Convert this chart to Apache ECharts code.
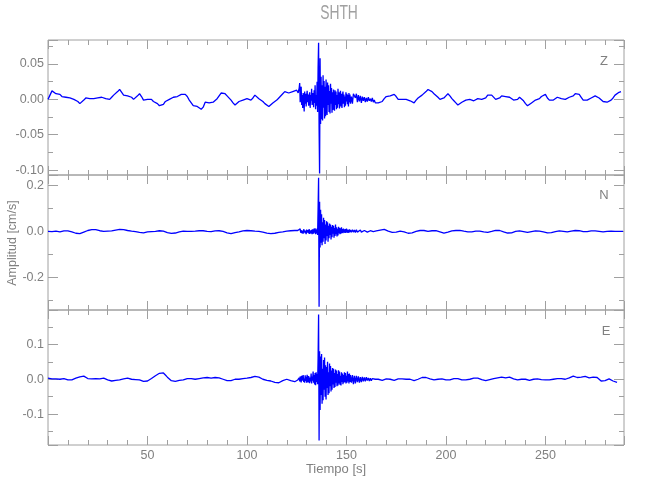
<!DOCTYPE html>
<html><head><meta charset="utf-8">
<script src="https://cdn.jsdelivr.net/npm/echarts@6/dist/echarts.min.js"></script>
<style>html,body{margin:0;padding:0;background:#fff}#c{width:650px;height:500px}</style>
</head><body><div id="c"></div>
<script>
const stationName = 'SHTH';
const componentNames = ['Z', 'N', 'E'];
const xAxisName = 'Tiempo [s]';
const yAxisName = 'Amplitud [cm/s]';
const timeRange = [0, 289.5];
const yRanges = [[-0.107, 0.084], [-0.344, 0.247], [-0.188, 0.198]];
const yLabelDecimals = [2, 1, 1];
const ySplitNumbers = [4, 3, 4];

// sample clock: 1 s before 125 s, 0.25 s for 125.25-152 s, 0.5 s for 152.5-165 s, 1 s after
const clockSegments = [[0, 125, 1], [125.25, 152, 0.25], [152.5, 165, 0.5], [166, 289, 1]];

// ---------- Z component ----------
const zPre = [
 0.000,0.006,0.012,0.010,0.008,0.006,0.007,0.004,0.005,0.003,
 0.004,0.002,0.003,0.000,-0.002,-0.003,-0.006,-0.004,-0.001,0.002,
 0.003,0.001,0.002,0.001,0.003,0.002,0.001,0.003,0.002,0.001,
 -0.001,0.000,0.003,0.006,0.008,0.011,0.014,0.012,0.006,0.004,
 0.005,0.006,0.003,0.000,0.002,0.005,0.008,0.004,-0.001,-0.003,
 0.000,0.002,0.000,-0.003,-0.005,-0.006,-0.009,-0.010,-0.007,-0.003,
 -0.002,0.000,0.001,0.003,0.002,0.004,0.005,0.007,0.008,0.007,
 0.004,-0.001,-0.005,-0.009,-0.008,-0.010,-0.009,-0.014,-0.011,-0.004,
 -0.003,-0.005,-0.005,-0.004,-0.003,0.001,0.005,0.009,0.011,0.008,
 0.005,0.003,-0.001,-0.005,-0.008,-0.006,-0.003,-0.002,-0.001,0.000,
 0.001,0.000,-0.001,0.002,0.006,0.004,0.001,-0.001,-0.003,-0.006,
 -0.008,-0.010,-0.008,-0.005,-0.003,-0.001,0.002,0.004,0.008,0.011,
 0.010,0.009,0.010,0.011,0.012,0.013
];
const zEventFine = [
 0.011,0.014,0.009,0.013,  0.016,0.023,-0.004,0.010,  0.018,-0.008,0.006,-0.012,
 0.009,0.002,-0.017,0.011, -0.006,0.008,-0.010,0.004, 0.012,-0.004,0.007,-0.009,
 0.003,0.010,-0.012,0.006, -0.002,0.015,-0.008,0.004, 0.009,-0.011,0.013,-0.005,
 0.020,-0.014,0.006,-0.009, 0.025,-0.018,0.045,0.080, -0.040,-0.105,0.058,-0.035,
 0.032,-0.028,0.020,-0.030, 0.034,-0.012,0.026,-0.027, 0.018,-0.024,0.028,-0.010,
 -0.022,0.024,-0.008,0.020, -0.018,0.012,-0.020,0.022, -0.006,0.016,-0.019,0.010,
 -0.015,0.014,-0.004,-0.016, 0.013,-0.008,0.011,-0.014, 0.006,-0.012,0.015,-0.007,
 0.010,-0.013,0.004,0.012, -0.010,0.008,-0.012,0.005, 0.011,-0.006,0.007,-0.011,
 0.004,-0.009,0.010,-0.003, 0.008,-0.007,0.006,-0.010, 0.009,-0.004,0.007,-0.006
];
const zEventCoda = [
 0.004,-0.006,0.008,0.010,0.002,0.008,-0.004,0.006,-0.003,0.005,
 -0.005,0.004,-0.002,0.003,-0.004,0.002,-0.003,0.003,-0.002,0.001,
 -0.003,0.002,-0.004,-0.001,-0.005,-0.003
];
const zPost = [
 -0.005,-0.007,-0.003,0.001,0.004,0.003,0.005,0.006,0.007,0.004,
 0.000,-0.001,0.000,0.001,0.000,-0.001,-0.002,-0.004,-0.005,-0.001,
 0.002,0.004,0.006,0.008,0.011,0.014,0.013,0.011,0.008,0.006,
 0.003,0.000,-0.001,0.002,0.005,0.008,0.005,0.001,-0.002,-0.005,
 -0.008,-0.007,-0.004,-0.003,-0.001,0.000,0.000,-0.001,-0.002,-0.001,
 0.001,0.002,0.000,-0.002,0.002,0.006,0.008,0.006,0.004,0.000,
 -0.002,0.002,0.005,0.004,0.004,0.003,0.003,0.001,-0.001,-0.002,
 0.000,0.003,0.002,-0.002,-0.006,-0.009,-0.008,-0.005,-0.003,-0.001,
 0.000,0.001,0.004,0.006,0.007,0.002,-0.001,-0.003,-0.001,0.001,
 0.003,0.002,0.001,0.000,0.000,0.002,0.003,0.002,0.005,0.008,
 0.008,0.007,0.003,-0.001,-0.002,-0.001,0.000,0.002,0.004,0.005,
 0.004,0.002,0.000,-0.003,-0.005,-0.004,-0.003,-0.001,0.002,0.006,
 0.008,0.010,0.011,null
];

// ---------- N component ----------
const nPre = [
 0.000,0.000,-0.001,0.000,0.001,0.000,-0.002,-0.001,0.002,0.003,
 0.002,0.001,-0.002,-0.005,-0.008,-0.010,-0.010,-0.007,-0.003,0.001,
 0.004,0.006,0.008,0.009,0.008,0.006,0.003,0.001,0.000,0.000,
 0.001,0.000,0.002,0.004,0.006,0.008,0.009,0.009,0.008,0.006,
 0.004,0.002,0.001,0.000,-0.001,-0.002,-0.004,-0.006,-0.006,-0.004,
 -0.002,-0.002,-0.001,-0.001,0.000,0.002,0.003,0.003,0.001,-0.002,
 -0.005,-0.007,-0.009,-0.009,-0.007,-0.004,-0.002,0.000,0.001,0.000,
 0.000,0.001,0.000,0.000,0.001,0.002,0.003,0.003,0.003,0.002,
 0.000,-0.001,-0.001,0.000,0.002,0.003,0.003,0.002,0.000,-0.003,
 -0.006,-0.009,-0.010,-0.008,-0.005,-0.003,-0.002,0.000,0.002,0.004,
 0.004,0.004,0.003,0.002,0.001,0.000,0.000,-0.001,-0.003,-0.005,
 -0.007,-0.009,-0.010,-0.010,-0.008,-0.006,-0.004,-0.002,-0.002,0.000,
 0.001,0.002,0.003,0.003,0.004,0.004
];
const nEventFine = [
 0.003,0.004,0.002,0.004,  0.008,-0.004,0.011,-0.006,  0.005,0.012,-0.008,0.003,
 -0.010,0.009,0.001,0.013, -0.007,0.004,-0.012,0.008,  0.011,-0.005,0.006,-0.009,
 0.010,-0.011,0.004,0.012, -0.008,0.007,-0.012,0.009,  0.002,-0.010,0.013,-0.006,
 0.014,-0.012,0.008,-0.009, 0.012,-0.015,0.100,0.235, -0.330,0.130,-0.070,0.095,
 -0.050,0.075,-0.060,0.040, -0.045,0.060,-0.030,0.050, -0.055,0.030,-0.040,0.045,
 -0.020,0.040,-0.045,0.025, -0.030,0.035,-0.015,0.030, -0.035,0.020,-0.025,0.028,
 -0.010,0.025,-0.028,0.015, -0.020,0.030,-0.012,0.018, -0.022,0.012,-0.018,0.020,
 -0.008,0.016,-0.012,0.014, -0.010,0.018,-0.006,0.010, -0.008,0.012,-0.004,0.009,
 -0.007,0.010,-0.006,0.012, -0.004,0.008,-0.006,0.007, -0.005,0.009,-0.003,0.006
];
const nEventCoda = [
 -0.004,0.007,-0.003,0.006,-0.005,0.007,-0.003,0.005,-0.004,0.006,
 -0.003,0.005,-0.004,0.004,-0.002,0.005,-0.003,0.004,-0.002,0.003,
 -0.002,0.004,-0.001,0.003,0.000,0.002
];
const nPost = [
 0.002,0.006,0.010,0.009,0.005,0.001,-0.002,-0.004,-0.005,-0.003,
 0.000,0.001,0.000,-0.002,-0.005,-0.008,-0.008,-0.006,-0.003,0.000,
 0.002,0.004,0.005,0.004,0.002,0.000,0.001,0.003,0.004,0.003,
 0.001,-0.002,-0.005,-0.007,-0.006,-0.003,0.000,0.002,0.003,0.004,
 0.005,0.005,0.003,0.001,-0.001,-0.002,-0.003,-0.002,0.000,0.001,
 0.002,0.001,0.000,-0.002,-0.004,-0.004,-0.002,0.000,0.003,0.005,
 0.006,0.004,0.001,-0.002,-0.005,-0.007,-0.008,-0.006,-0.003,0.000,
 0.001,0.002,0.001,-0.001,-0.003,-0.004,-0.003,-0.001,0.001,0.002,
 0.002,0.001,0.000,-0.002,-0.004,-0.006,-0.007,-0.005,-0.003,-0.001,
 0.001,0.002,0.001,0.000,-0.001,-0.002,-0.001,0.001,0.003,0.004,
 0.004,0.003,0.001,-0.001,-0.002,-0.001,0.000,0.002,0.003,0.002,
 0.001,0.000,-0.001,-0.002,-0.001,0.000,0.001,0.001,0.000,0.000,
 0.001,0.000,0.000,0.000
];

// ---------- E component ----------
const ePre = [
 0.003,0.002,0.001,0.003,0.001,-0.001,0.000,0.001,0.002,0.000,
 -0.002,-0.003,-0.002,0.001,0.003,0.005,0.007,0.009,0.009,0.006,
 0.002,0.000,0.001,0.003,0.002,0.000,0.001,0.002,0.003,0.001,
 -0.002,-0.004,-0.005,-0.004,-0.003,-0.002,-0.002,-0.001,0.001,0.002,
 0.003,0.002,0.000,-0.001,-0.001,0.000,-0.002,-0.004,-0.006,-0.007,
 -0.005,-0.002,0.002,0.006,0.010,0.013,0.017,0.019,0.018,0.012,
 0.006,0.001,-0.004,-0.007,-0.006,-0.004,-0.003,-0.002,-0.002,0.000,
 0.002,0.003,0.002,0.000,0.000,0.001,0.002,0.003,0.004,0.005,
 0.005,0.004,0.003,0.004,0.005,0.005,0.004,0.002,0.000,-0.002,
 -0.004,-0.005,-0.004,-0.002,0.000,0.001,0.000,0.000,0.002,0.003,
 0.003,0.004,0.005,0.007,0.008,0.008,0.006,0.003,0.000,-0.002,
 -0.003,-0.003,-0.005,-0.007,-0.009,-0.010,-0.010,-0.008,-0.004,-0.001,
 0.000,-0.002,-0.004,-0.006,-0.007,-0.005
];
const eEventFine = [
 -0.004,-0.002,0.001,-0.003, 0.004,-0.006,0.008,-0.002, -0.009,0.010,-0.004,0.006,
 0.012,-0.008,0.002,-0.010,  0.011,-0.005,0.007,-0.010, 0.013,-0.003,-0.009,0.009,
 0.014,-0.011,0.005,-0.006,  0.016,-0.012,0.008,-0.004, 0.022,-0.010,0.012,-0.015,
 0.018,-0.017,0.020,-0.008,  0.015,-0.014,0.060,0.185, -0.175,0.080,-0.088,0.065,
 -0.045,0.072,-0.070,0.030, -0.060,0.055,-0.030,0.062, -0.050,0.040,-0.058,0.035,
 -0.025,0.050,-0.045,0.020, -0.040,0.045,-0.020,0.038, -0.035,0.025,-0.030,0.032,
 -0.015,0.030,-0.025,0.018, -0.022,0.028,-0.010,0.025, -0.020,0.015,-0.018,0.026,
 -0.012,0.022,-0.016,0.010, -0.018,0.020,-0.008,0.016, -0.014,0.012,-0.010,0.020,
 -0.008,0.018,-0.012,0.010, -0.010,0.022,-0.006,0.015, -0.012,0.016,-0.008,0.012
];
const eEventCoda = [
 -0.010,0.012,-0.014,0.010,-0.012,0.010,-0.008,0.008,-0.010,0.006,
 -0.008,0.007,-0.006,0.005,-0.006,0.006,-0.004,0.004,-0.005,0.003,
 -0.004,0.002,-0.003,0.001,0.000,0.001
];
const ePost = [
 0.000,-0.002,-0.003,-0.001,0.001,0.002,0.000,-0.002,-0.003,-0.001,
 0.001,0.002,0.001,0.000,0.000,0.001,0.000,-0.002,-0.004,-0.003,
 0.000,0.003,0.005,0.006,0.005,0.003,0.001,-0.001,-0.002,-0.001,
 0.000,0.001,0.001,0.000,-0.002,-0.003,-0.002,0.000,0.002,0.003,
 0.002,0.000,-0.002,-0.003,-0.002,-0.001,0.000,0.002,0.003,0.004,
 0.003,0.001,-0.001,-0.003,-0.004,-0.003,-0.001,0.001,0.002,0.003,
 0.004,0.005,0.006,0.005,0.004,0.005,0.006,0.004,0.001,-0.001,
 -0.002,-0.001,0.000,0.001,0.000,-0.002,-0.003,-0.002,0.000,0.001,
 0.001,0.000,-0.001,-0.002,-0.002,-0.002,-0.002,0.000,0.000,0.001,
 0.002,0.003,0.002,0.001,0.000,0.000,0.004,0.007,0.009,0.007,
 0.005,0.004,0.006,0.008,0.008,0.006,0.004,0.005,0.006,0.007,
 0.005,0.001,-0.005,-0.002,-0.004,0.001,0.001,-0.002,-0.005,-0.007,
 -0.009,null,null,null
];

const traces = [
  [].concat(zPre, zEventFine, zEventCoda, zPost),
  [].concat(nPre, nEventFine, nEventCoda, nPost),
  [].concat(ePre, eEventFine, eEventCoda, ePost)
];

function buildClock() {
  const t = [];
  clockSegments.forEach(([a, b, s]) => { for (let v = a; v <= b + 1e-9; v += s) t.push(v); });
  return t;
}
const times = buildClock();

const frameColor = '#a0a0a0';
const textColor = '#808080';
const fontFamily = '"Liberation Sans", Arial, sans-serif';
const gridTops = [40, 175, 310];
const gridH = 135;

const grids = gridTops.map(t => ({
  left: 48, right: 26, top: t, height: gridH, show: true,
  borderColor: frameColor, borderWidth: 1, backgroundColor: 'transparent'
}));

const xAxes = [];
const yAxes = [];
gridTops.forEach((t, i) => {
  ['bottom', 'top'].forEach(pos => {
    xAxes.push({
      gridIndex: i, type: 'value', position: pos,
      min: timeRange[0], max: timeRange[1], splitNumber: 6,
      axisLine: { show: false, onZero: false },
      axisTick: { show: true, inside: true, length: 9, lineStyle: { color: frameColor, width: 1 } },
      minorTick: { show: true, splitNumber: 5, length: 5, lineStyle: { color: frameColor, width: 1 } },
      splitLine: { show: false }, minorSplitLine: { show: false },
      axisLabel: {
        show: pos === 'bottom' && i === 2, color: textColor, fontFamily, fontSize: 12.5, margin: 4,
        showMinLabel: false, showMaxLabel: false,
        formatter: v => String(Math.round(v))
      }
    });
  });
  ['left', 'right'].forEach(pos => {
    yAxes.push({
      gridIndex: i, type: 'value', position: pos,
      min: yRanges[i][0], max: yRanges[i][1], splitNumber: ySplitNumbers[i],
      axisLine: { show: false, onZero: false },
      axisTick: { show: true, inside: true, length: 10, lineStyle: { color: frameColor, width: 1 } },
      minorTick: { show: true, splitNumber: 2, length: 5, lineStyle: { color: frameColor, width: 1 } },
      splitLine: { show: false }, minorSplitLine: { show: false },
      axisLabel: {
        show: pos === 'left', color: textColor, fontFamily, fontSize: 12.5, margin: 4,
        showMinLabel: false, showMaxLabel: false,
        formatter: v => v.toFixed(yLabelDecimals[i])
      }
    });
  });
});

const series = traces.map((vals, i) => ({
  type: 'line', xAxisIndex: i * 2, yAxisIndex: i * 2,
  data: times.map((t, k) => [t, vals[k]]),
  showSymbol: false, symbol: 'none', connectNulls: false,
  lineStyle: { color: '#0000ff', width: 1.3 },
  emphasis: { disabled: true }, silent: true
}));

const textEl = (text, x, y, size, color, extra) => Object.assign({
  type: 'text', x, y, silent: true,
  style: {
    text, fill: color, font: size + 'px ' + fontFamily,
    textAlign: 'center', align: 'center', textVerticalAlign: 'middle', verticalAlign: 'middle'
  }
}, extra || {});

const graphics = [
  textEl(stationName, 339, 13, 21, '#a0a0a0', { scaleX: 0.66 }),
  textEl(xAxisName, 336, 469, 13, textColor),
  textEl(yAxisName, 13, 243, 12.5, textColor, { rotation: Math.PI / 2 }),
  textEl(componentNames[0], 604, 61, 13, textColor),
  textEl(componentNames[1], 604, 195, 13, textColor),
  textEl(componentNames[2], 606, 331, 13, textColor)
];

const chart = echarts.init(document.getElementById('c'), null, { renderer: 'canvas' });
chart.setOption({
  animation: false,
  backgroundColor: '#ffffff',
  grid: grids,
  xAxis: xAxes,
  yAxis: yAxes,
  series,
  graphic: graphics
});
</script>
</body></html>
